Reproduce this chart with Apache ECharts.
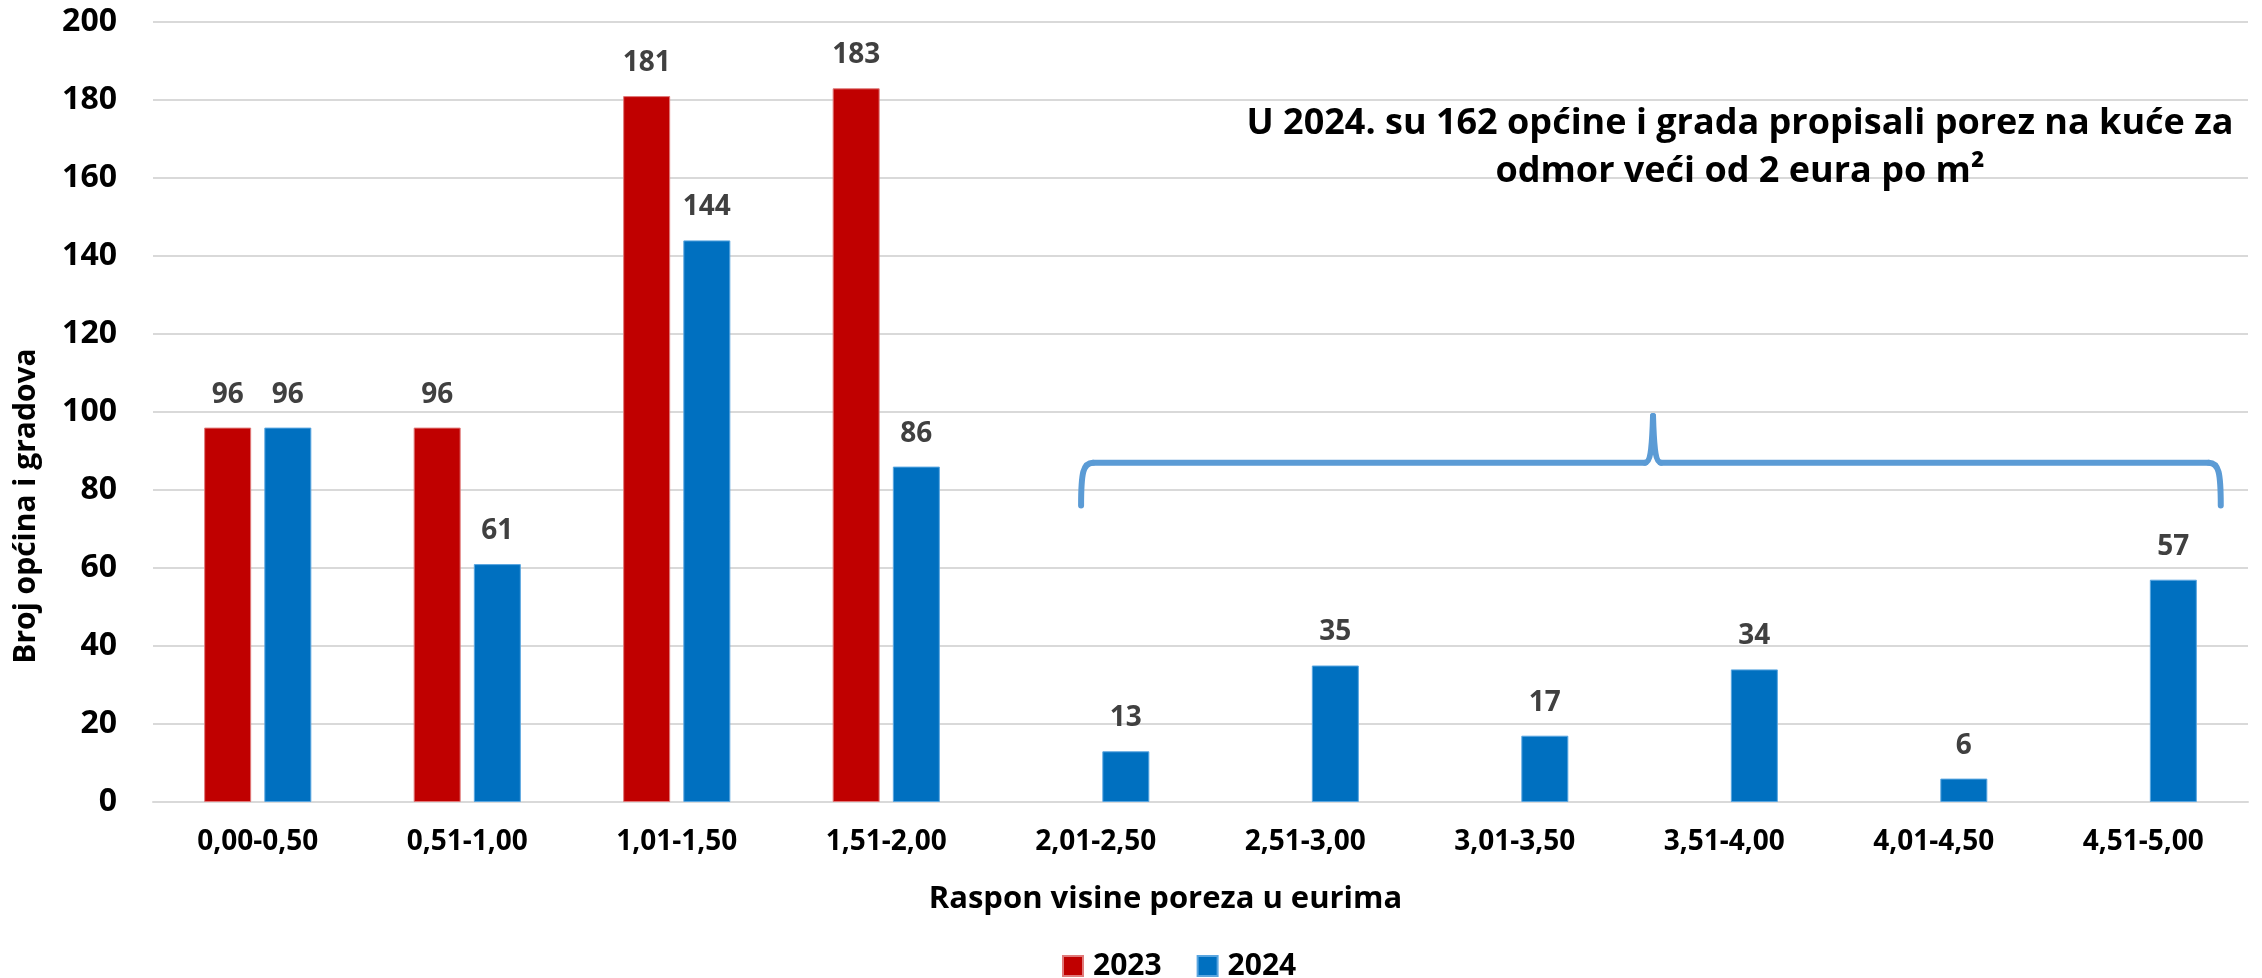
<!DOCTYPE html>
<html>
<head>
<meta charset="utf-8">
<script src="https://cdn.jsdelivr.net/npm/echarts@6/dist/echarts.min.js"></script>
<style>
  html, body { margin: 0; padding: 0; background: #fff; }
  #chart { width: 2262px; height: 978px; }
</style>
</head>
<body>
<div id="chart"></div>
<script>
// data
const categories = ["0,00-0,50", "0,51-1,00", "1,01-1,50", "1,51-2,00", "2,01-2,50",
    "2,51-3,00", "3,01-3,50", "3,51-4,00", "4,01-4,50", "4,51-5,00"];
const values2023 = [96, 96, 181, 183, "-", "-", "-", "-", "-", "-"];
const values2024 = [96, 61, 144, 86, 13, 35, 17, 34, 6, 57];
const yTicks = { min: 0, max: 200, interval: 20 };

const noteText = "U 2024. su 162 općine i grada propisali porez na kuće za\nodmor veći od 2 eura po m²";

// brace annotation, in category units from the plot's left edge and in axis values
const brace = { from: 4.43, to: 9.87, mid: 7.16, ends: 76, line: 87, tip: 99 };

const font = "Open Sans";
const red = "#C00000";
const blue = "#0070C0";

const chart = echarts.init(document.getElementById("chart"));

const barLabel = {
    show: true,
    position: "top",
    distance: 19,
    color: "#404040",
    fontFamily: font,
    fontWeight: "bold",
    fontSize: 28
};

chart.setOption({
    animation: false,
    backgroundColor: "#fff",
    textStyle: { fontFamily: font },
    title: {
        text: noteText,
        left: 1735,
        top: 95,
        textAlign: "center",
        textStyle: {
            fontFamily: font,
            fontWeight: "bold",
            fontSize: 36,
            lineHeight: 48,
            color: "#000"
        }
    },
    grid: { left: 153, right: 14, top: 22, bottom: 176 },
    legend: {
        data: ["2023", "2024"],
        left: 1057,
        top: 946,
        itemWidth: 20,
        itemHeight: 20,
        itemGap: 35,
        icon: "rect",
        textStyle: { fontFamily: font, fontWeight: "bold", fontSize: 30, color: "#000", padding: [0, 0, 0, 5] }
    },
    xAxis: {
        type: "category",
        data: categories,
        name: "Raspon visine poreza u eurima",
        nameLocation: "middle",
        nameGap: 82,
        nameTextStyle: {
            fontFamily: font,
            fontWeight: "bold",
            fontSize: 31,
            color: "#000",
            padding: [0, 70, 0, 0]
        },
        axisLine: { lineStyle: { color: "#d9d9d9", width: 2 } },
        axisTick: { show: false },
        axisLabel: {
            fontFamily: font,
            fontWeight: "bold",
            fontSize: 28,
            color: "#000",
            margin: 26
        }
    },
    yAxis: {
        type: "value",
        min: yTicks.min,
        max: yTicks.max,
        interval: yTicks.interval,
        axisLine: { show: false },
        axisTick: { show: false },
        axisLabel: {
            fontFamily: font,
            fontWeight: "bold",
            fontSize: 32,
            color: "#000",
            margin: 36
        },
        splitLine: { lineStyle: { color: "#d9d9d9", width: 2 } }
    },
    series: [
        {
            name: "2023",
            type: "bar",
            data: values2023,
            barWidth: 47,
            barGap: "28%",
            itemStyle: { color: red, borderColor: "#e07a7a", borderWidth: 1 },
            label: barLabel
        },
        {
            name: "2024",
            type: "bar",
            data: values2024,
            barWidth: 47,
            barGap: "28%",
            itemStyle: { color: blue, borderColor: "#5aa6e0", borderWidth: 1 },
            label: barLabel
        }
    ]
});

// y axis title and the curly brace, placed from the axes
const c0 = chart.convertToPixel({ xAxisIndex: 0 }, 0);
const c1 = chart.convertToPixel({ xAxisIndex: 0 }, 1);
const band = c1 - c0;
const px = u => c0 - band / 2 + u * band;
const py = v => chart.convertToPixel({ yAxisIndex: 0 }, v);

const L = px(brace.from), R = px(brace.to), M = px(brace.mid);
const yE = py(brace.ends), yL = py(brace.line), yT = py(brace.tip);
const braceStyle = { stroke: "#5B9BD5", lineWidth: 6, fill: null, lineCap: "round" };

const braceParts = [
    { type: "bezierCurve", shape: { x1: L, y1: yE, cpx1: L, cpy1: yL + 10, cpx2: L + 2, cpy2: yL, x2: L + 12, y2: yL } },
    { type: "line", shape: { x1: L + 12, y1: yL, x2: M - 8, y2: yL } },
    { type: "bezierCurve", shape: { x1: M - 8, y1: yL, cpx1: M - 3, cpy1: yL, cpx2: M - 1, cpy2: yL - 12, x2: M, y2: yT } },
    { type: "bezierCurve", shape: { x1: M, y1: yT, cpx1: M + 1, cpy1: yL - 12, cpx2: M + 3, cpy2: yL, x2: M + 8, y2: yL } },
    { type: "line", shape: { x1: M + 8, y1: yL, x2: R - 12, y2: yL } },
    { type: "bezierCurve", shape: { x1: R - 12, y1: yL, cpx1: R - 2, cpy1: yL, cpx2: R, cpy2: yL + 10, x2: R, y2: yE } }
].map(p => Object.assign(p, { style: braceStyle, silent: true }));

chart.setOption({
    graphic: [
        {
            type: "text",
            x: 26,
            y: 506,
            rotation: Math.PI / 2,
            style: {
                text: "Broj općina i gradova",
                fontFamily: font,
                fontWeight: "bold",
                fontSize: 30,
                fill: "#000",
                align: "center",
                verticalAlign: "middle"
            }
        }
    ].concat(braceParts)
});
</script>
</body>
</html>
